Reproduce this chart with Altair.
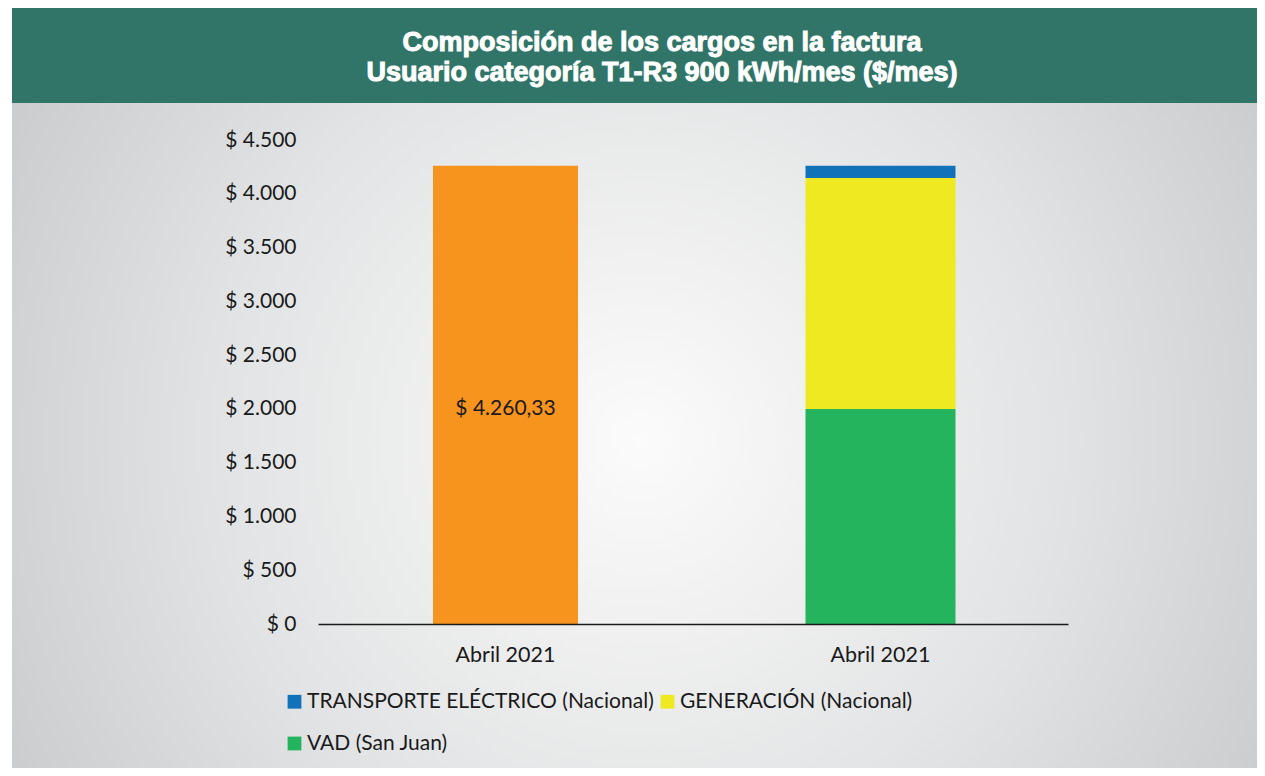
import altair as alt
import pandas as pd

# ---- data ----
bars = ["total", "desglose"]
bar_labels = ["Abril 2021", "Abril 2021"]
total_value = [4260.33]
components = ["TRANSPORTE ELÉCTRICO (Nacional)", "GENERACIÓN (Nacional)", "VAD (San Juan)"]
component_values = [114.33, 2148.0, 1998.0]
component_order = [2, 1, 0]
component_colors = ["#1172BA", "#EEE921", "#25B45E"]
legend_order = [0, 2, 1]  # column-major legend layout -> row 1: T, G ; row 2: V
total_color = "#F7941D"
y_ticks = [0, 500, 1000, 1500, 2000, 2500, 3000, 3500, 4000, 4500]
title_lines = ["Composición de los cargos en la factura",
               "Usuario categoría T1-R3 900 kWh/mes ($/mes)"]

W, H = 750, 484
PAD_L, PAD_T = 310, 132
TOTAL_W, TOTAL_H = 1249, 760

df_total = pd.DataFrame({"bar": [bars[0]], "valor": total_value})
df_comp = pd.DataFrame({"bar": [bars[1]] * 3, "componente": components,
                        "valor": component_values, "orden": component_order})
df_one = pd.DataFrame({"k": [0]})

leg_domain = [components[i] for i in legend_order]
leg_range = [component_colors[i] for i in legend_order]

label_expr = " : ".join(
    [f"datum.value == '{b}' ? '{l}'" for b, l in zip(bars, bar_labels)]
) + " : ''"

x_enc = alt.X("bar:N", sort=bars, title=None,
              scale=alt.Scale(domain=bars, paddingInner=0, paddingOuter=0),
              axis=alt.Axis(labelExpr=label_expr, labelAngle=0, domainColor="#1a1a1a",
                            domainWidth=1.5, ticks=False, labelPadding=20, zindex=2,
                            labelFont="Lato", labelFontSize=21.5, labelColor="#1a1a1a"))
y_scale = alt.Scale(domain=[0, 4500], nice=False)
y_axis = alt.Axis(values=y_ticks, grid=False, ticks=False, domain=False, labelPadding=22,
                  zindex=2, labelFont="Lato", labelFontSize=21, labelColor="#1a1a1a",
                  labelExpr="'$ ' + replace(format(datum.value, ','), ',', '.')")

grad = alt.RadialGradient(
    gradient="radial", x1=0.5, y1=0.5, r1=0, x2=0.5, y2=0.5, r2=0.75,
    stops=[alt.GradientStop(offset=0, color="#FBFBFB"),
           alt.GradientStop(offset=0.45, color="#E2E3E4"),
           alt.GradientStop(offset=1, color="#B9BABD")])

background = alt.Chart(df_one).mark_rect(fill=grad).encode(
    x=alt.value(12 - 8 - PAD_L), x2=alt.value(TOTAL_W - PAD_L + 10),
    y=alt.value(-PAD_T + 94), y2=alt.value(TOTAL_H - PAD_T + 10))

banner = alt.Chart(df_one).mark_rect(fill="#307567").encode(
    x=alt.value(12 - 8 - PAD_L), x2=alt.value(TOTAL_W - PAD_L + 10),
    y=alt.value(-PAD_T), y2=alt.value(-PAD_T + 95))

title_layers = []
for i, line in enumerate(title_lines):
    title_layers.append(
        alt.Chart(df_one).mark_text(
            text=line, font="Liberation Sans", fontWeight="bold", fontSize=27,
            color="white", stroke="white", strokeWidth=1.0,
            align="center", baseline="middle").encode(
            x=alt.value(662 - 8 - PAD_L), y=alt.value(-PAD_T + 35 + 30 * i)))

total_bar = alt.Chart(df_total).mark_bar(size=145, color=total_color).encode(
    x=x_enc, y=alt.Y("valor:Q", scale=y_scale, axis=y_axis, title=None))

total_text = alt.Chart(df_total).transform_calculate(
    lab="'$ ' + replace(replace(replace(format(datum.valor, ',.2f'), ',', '_'), '.', ','), '_', '.')",
    mid="datum.valor / 2"
).mark_text(font="Lato", fontSize=21, color="#1a1a1a", dy=14).encode(
    x="bar:N", y=alt.Y("mid:Q", scale=y_scale), text="lab:N")

stack = alt.Chart(df_comp).mark_bar(size=150).encode(
    x="bar:N",
    y=alt.Y("valor:Q", stack="zero", scale=y_scale),
    order=alt.Order("orden:Q", sort="ascending"),
    color=alt.Color("componente:N", sort=leg_domain,
                    scale=alt.Scale(domain=leg_domain, range=leg_range),
                    legend=alt.Legend(orient="none", legendX=-34, legendY=551, title=None,
                                      columns=2, symbolType="square", symbolSize=190,
                                      symbolStrokeWidth=0, labelFont="Lato", labelFontSize=21,
                                      labelColor="#1a1a1a", rowPadding=20, columnPadding=3,
                                      labelLimit=400, labelOffset=2)))

chart = alt.layer(background, banner, *title_layers, total_bar, stack, total_text).properties(
    width=W, height=H,
    autosize=alt.AutoSizeParams(type="none"),
    padding={"left": PAD_L, "top": PAD_T, "right": TOTAL_W - W - PAD_L, "bottom": TOTAL_H - H - PAD_T},
).configure_view(stroke=None).configure(background="white")

chart.save("out.html", embed_options={"renderer": "svg", "actions": False})
